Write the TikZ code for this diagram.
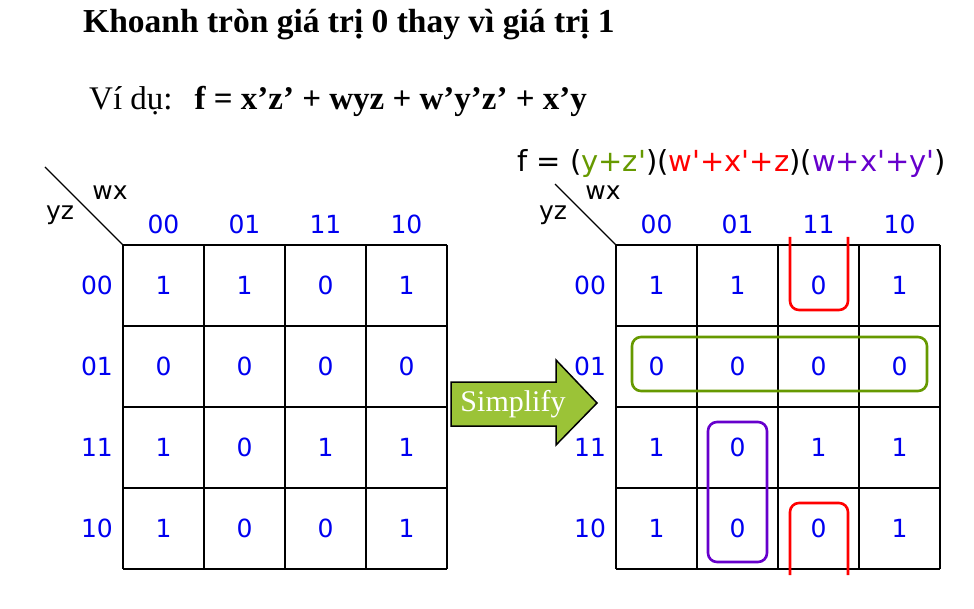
\documentclass[tikz,border=0pt]{standalone}
\usepackage{fontspec}
\setmainfont{Liberation Serif}
\newfontfamily\verdana{DejaVu Sans}
\newcommand\pr{\textquotesingle}

\definecolor{kblue}{RGB}{0,0,240}
\definecolor{kgreen}{RGB}{102,153,0}
\definecolor{kpurple}{RGB}{102,0,204}
\definecolor{karrow}{RGB}{155,195,55}

\begin{document}
\begin{tikzpicture}[x=1pt, y=-1pt,
    every node/.style={font=\verdana\fontsize{25}{28}\selectfont},
    cell/.style={text=kblue},
    gridline/.style={line width=1.8pt},
    grp/.style={line width=2.6pt, rounded corners=9pt}]
    \useasboundingbox (0,0) rectangle (974,609);

    % headings
    \node[anchor=base west, inner sep=0pt, font=\bfseries\fontsize{33.5}{36}\selectfont] (title) at (83,33) {Khoanh tròn giá trị 0 thay vì giá trị 1};
    \node[anchor=base west, inner sep=0pt, font=\fontsize{33}{36}\selectfont] (vidu) at (89,110) {Ví dụ:\hspace{22pt}\textbf{f = x’z’ + wyz + w’y’z’ + x’y}};
    \node[anchor=base west, inner sep=0pt, font=\verdana\fontsize{29}{32}\selectfont] (fexpr) at (517,172)
        {f = (\textcolor{kgreen}{y+z\pr})(\textcolor{red}{w\pr+x\pr+z})(\textcolor{kpurple}{w+x\pr+y\pr})};

    % two maps
    \foreach \m/\ox/\lx/\dx in {L/123/97/45, R/616/590/555} {
        \coordinate (c\m) at (\ox,245);
        \coordinate (d\m) at (\dx,{245-(\ox-\dx)});
        \draw[line width=1.3pt] (d\m) -- (c\m);
        \node (wx\m) at (\ox-13,193) {wx};
        \node (yz\m) at (\ox-63,215) {yz};
        \foreach \i in {0,...,4} {
            \draw[gridline] (\ox+81*\i,245) -- (\ox+81*\i,569);
            \draw[gridline] (\ox,245+81*\i) -- (\ox+324,245+81*\i);
        }
        \foreach \t [count=\k from 0] in {00,01,11,10} {
            \node[cell] (col\m\k) at (\ox+40.5+81*\k,224) {\t};
            \node[cell] (row\m\k) at (\lx,285.5+81*\k) {\t};
        }
        \foreach \r/\vals in {0/{1,1,0,1}, 1/{0,0,0,0}, 2/{1,0,1,1}, 3/{1,0,0,1}} {
            \foreach \v [count=\c from 0] in \vals
                \node[cell] (v\m\r\c) at (\ox+40.5+81*\c,285.5+81*\r) {\v};
        }
    }

    % groups of zeros
    \draw[grp, kgreen] (632,337) rectangle (927,391);
    \draw[grp, kpurple] (708,422) rectangle (767,562);
    \draw[grp, red] (790,237) -- (790,310) -- (848,310) -- (848,237);
    \draw[grp, red] (790,575) -- (790,503) -- (848,503) -- (848,575);

    % arrow
    \draw[line width=1.5pt, fill=karrow] (451,382) -- (556,382) -- (556,360) -- (597,403)
        -- (556,445) -- (556,426) -- (451,426) -- cycle;
    \node[text=white, font=\fontsize{30}{32}\selectfont] (simp) at (513,404) {Simplify};
\end{tikzpicture}
\end{document}
